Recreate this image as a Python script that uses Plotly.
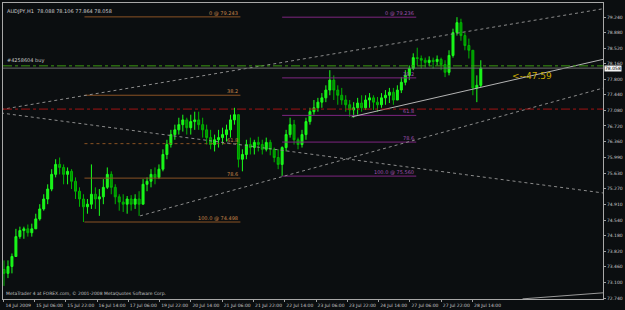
import plotly.graph_objects as go

# ---------------- data (AUDJPY, 2-hour bars) ----------------
close = [73.31,73.47,73.70,74.16,74.30,74.34,74.25,74.34,74.57,74.80,
         75.03,75.26,75.60,75.83,75.76,75.60,75.67,75.44,75.21,75.03,
         74.85,74.91,75.14,75.03,75.08,75.30,75.60,75.30,75.08,74.96,
         74.91,75.03,74.91,75.03,74.91,75.37,75.44,75.60,75.53,75.72,
         76.06,76.29,76.52,76.63,76.75,76.86,76.68,76.82,76.86,76.75,
         76.63,76.45,76.29,76.40,76.45,76.52,76.63,76.86,76.98,75.95,
         76.06,76.29,76.22,76.34,76.29,76.18,76.34,76.18,75.99,75.83,
         76.22,76.52,76.75,76.40,76.29,76.52,76.82,77.05,77.14,77.27,
         77.37,77.55,77.78,77.55,77.43,77.32,77.21,77.09,77.14,77.25,
         77.14,77.32,77.37,77.27,77.21,77.37,77.43,77.50,77.32,77.55,
         77.73,77.89,78.05,78.30,78.28,78.24,78.19,78.24,78.21,78.26,
         78.14,77.96,78.35,78.88,79.11,78.81,78.58,78.47,77.60,77.66,
         78.058]
high = [73.61,73.61,73.77,74.34,74.39,74.39,74.44,74.46,74.69,74.91,
        75.14,75.37,75.72,75.95,75.99,75.83,75.76,75.72,75.53,75.30,
        75.14,75.03,75.83,75.30,75.26,75.49,75.76,75.67,75.37,75.14,
        75.14,75.10,75.12,75.14,75.21,75.49,75.53,75.72,75.76,75.83,
        76.18,76.40,76.63,76.75,76.91,76.98,76.91,76.98,77.05,77.05,
        76.91,76.75,76.63,76.52,76.63,76.68,76.75,76.98,77.14,76.98,
        76.18,76.40,76.45,76.40,76.47,76.40,76.45,76.40,76.22,76.18,
        76.25,76.63,76.91,76.86,76.45,76.63,76.91,77.14,77.32,77.37,
        77.48,77.66,78.01,77.89,77.66,77.60,77.43,77.32,77.27,77.37,
        77.43,77.43,77.48,77.43,77.39,77.48,77.55,77.60,77.60,77.66,
        77.85,78.01,78.12,78.40,78.53,78.35,78.30,78.33,78.30,78.35,
        78.30,78.24,78.47,78.97,79.236,79.20,78.88,78.74,78.35,77.89,
        78.24]
low = [73.02,73.20,73.31,73.70,74.11,74.11,74.16,74.16,74.34,74.53,
       74.76,74.91,75.21,75.53,75.60,75.37,75.37,75.26,75.03,74.85,
       74.498,74.69,74.80,74.80,74.64,74.91,75.26,75.14,74.91,74.76,
       74.73,74.69,74.76,74.80,74.64,75.03,75.21,75.30,75.37,75.49,
       75.67,75.95,76.22,76.40,76.52,76.59,76.52,76.52,76.63,76.63,
       76.45,76.29,76.18,76.13,76.22,76.29,76.36,76.45,76.75,75.76,
       75.67,75.95,76.06,76.06,76.13,76.06,76.13,76.04,75.88,75.72,
       75.56,76.13,76.45,76.29,76.18,76.22,76.40,76.75,76.98,77.05,
       77.14,77.27,77.43,77.32,77.21,77.21,77.05,76.93,76.91,76.98,
       77.05,77.09,77.14,77.09,77.05,77.14,77.21,77.25,77.21,77.32,
       77.48,77.66,77.78,78.01,78.12,78.05,78.07,78.10,78.05,78.12,
       78.01,77.85,77.89,78.30,78.81,78.69,78.47,78.28,77.43,77.27,
       77.62]
first_open = 73.40

x_labels = ["14 Jul 2009", "15 Jul 06:00", "15 Jul 22:00", "16 Jul 14:00",
            "17 Jul 06:00", "19 Jul 22:00", "20 Jul 14:00", "21 Jul 06:00",
            "21 Jul 22:00", "22 Jul 14:00", "23 Jul 06:00", "23 Jul 22:00",
            "24 Jul 14:00", "27 Jul 06:00", "27 Jul 22:00", "28 Jul 14:00"]
y_ticks = [79.240, 78.880, 78.520, 78.160, 77.800, 77.440, 77.080, 76.720,
           76.360, 75.990, 75.630, 75.270, 74.910, 74.540, 74.180, 73.820,
           73.460, 73.100, 72.740]

fib_levels = [0.0, 38.2, 61.8, 78.6, 100.0]
orange_fib = dict(hi=79.243, lo=74.498, x0=20.25, x1=59.5)
purple_fib = dict(hi=79.236, lo=75.560, x0=70.0, x1=103.75)

trendlines = [  # (x0, x1, y0, y1, colour, dash)
    (-0.75, 150.75, 77.10, 79.43, "#8c8c8c", "dot"),
    (34.25, 150.75, 74.64, 77.595, "#8c8c8c", "dot"),
    (-0.75, 150.75, 77.02, 75.17, "#8c8c8c", "dot"),
    (87.5, 150.75, 76.93, 78.26, "#b4b4b4", "solid"),
    (130.5, 150.75, 72.72, 72.86, "#9a9a9a", "solid"),
]
buy_price = 78.11
bid_price = 78.058
stop_price = 77.11
header = "AUDJPY,H1  78.088 78.106 77.864 78.058"

# ---------------- figure ----------------
BG = "#0b0e10"
FONT = "DejaVu Sans"
x = list(range(len(close)))
opens = [first_open] + close[:-1]
hi = [max(h, o, c) for h, o, c in zip(high, opens, close)]
lo = [min(l, o, c) for l, o, c in zip(low, opens, close)]

fig = go.Figure(go.Candlestick(
    x=x, open=opens, high=hi, low=lo, close=close,
    increasing=dict(line=dict(color="#1aff1a", width=1), fillcolor="#1aee1a"),
    decreasing=dict(line=dict(color="#00b400", width=1), fillcolor="#009000"),
    hoverinfo="skip", whiskerwidth=0))

shapes = []
annotations = []

for fib, col, tcol in [(orange_fib, "#8a5224", "#c8864a"), (purple_fib, "#7e2580", "#a050b0")]:
    rng = fib["hi"] - fib["lo"]
    for lev in fib_levels:
        p = fib["hi"] - lev / 100.0 * rng
        shapes.append(dict(type="line", xref="x", yref="y", x0=fib["x0"], x1=fib["x1"],
                           y0=p, y1=p, line=dict(color=col, width=1,
                           dash="dot" if (lev == 61.8 and fib is orange_fib) else "solid")))
        if lev == 0.0:
            txt = "0 @ %.3f" % fib["hi"]
        elif lev == 100.0:
            txt = "100.0 @ %.3f" % fib["lo"]
        else:
            txt = "%.1f" % lev
        annotations.append(dict(x=fib["x1"], y=p, xref="x", yref="y", text=txt,
                                showarrow=False, xanchor="right", yanchor="bottom",
                                yshift=-1, font=dict(size=5, color=tcol, family=FONT)))

for x0, x1, y0, y1, col, dash in trendlines:
    shapes.append(dict(type="line", xref="x", yref="y", x0=x0, x1=x1, y0=y0, y1=y1,
                       line=dict(color=col, width=1, dash=dash)))

shapes.append(dict(type="line", xref="paper", yref="y", x0=0, x1=1, y0=buy_price, y1=buy_price,
                   line=dict(color="#3c9a12", width=1, dash="dashdot")))
shapes.append(dict(type="line", xref="paper", yref="y", x0=0, x1=1, y0=bid_price, y1=bid_price,
                   line=dict(color="#6e6e6e", width=1)))
shapes.append(dict(type="line", xref="paper", yref="y", x0=0, x1=1, y0=stop_price, y1=stop_price,
                   line=dict(color="#a01414", width=1, dash="dashdot")))

annotations += [
    dict(x=0.003, y=0.99, xref="paper", yref="paper", text=header, showarrow=False,
         xanchor="left", yanchor="top", font=dict(size=5, color="#d0d0d0", family=FONT)),
    dict(x=0.003, y=buy_price, xref="paper", yref="y", text="#4258604 buy", showarrow=False,
         xanchor="left", yanchor="bottom", yshift=0, font=dict(size=5, color="#c8c8c8", family=FONT)),
    dict(x=127.3, y=77.88, xref="x", yref="y", text="<--47.59", showarrow=False,
         xanchor="left", yanchor="middle", font=dict(size=9, color="#c8a800", family=FONT)),
    dict(x=0.002, y=0.005, xref="paper", yref="paper",
         text="MetaTrader 4 at FOREX.com, © 2001-2008 MetaQuotes Software Corp.",
         showarrow=False, xanchor="left", yanchor="bottom",
         font=dict(size=4.5, color="#c0c0c0", family=FONT)),
    dict(x=1, y=bid_price, xref="paper", yref="y", text="78.058", showarrow=False,
         xanchor="left", yanchor="middle", xshift=1, bgcolor="#f4f4f4", borderpad=0,
         font=dict(size=4.5, color="#000000", family=FONT)),
]

tick_pos = [-0.2 + 7.875 * k for k in range(len(x_labels))]

fig.update_layout(
    width=625, height=310,
    margin=dict(l=2, r=19, t=2, b=9),
    paper_bgcolor=BG, plot_bgcolor=BG,
    showlegend=False,
    shapes=shapes, annotations=annotations,
    xaxis=dict(range=[-0.25, 150.75], rangeslider=dict(visible=False),
               tickvals=tick_pos, ticktext=x_labels, ticks="outside", ticklen=2,
               tickcolor="#a0a0a0", showgrid=False, zeroline=False, showline=True,
               linecolor="#a8a8a8", linewidth=1, mirror=True, ticklabelshift=15,
               tickfont=dict(size=4.5, color="#c8c8c8", family=FONT), fixedrange=True),
    yaxis=dict(range=[72.717, 79.564], side="right", tickvals=y_ticks,
               ticktext=["%.3f" % v for v in y_ticks], ticks="outside", ticklen=2,
               tickcolor="#a0a0a0", showgrid=False, zeroline=False, showline=True,
               linecolor="#a8a8a8", linewidth=1, mirror=True,
               tickfont=dict(size=4.5, color="#c8c8c8", family=FONT), fixedrange=True),
)

fig.write_html("out.html")
